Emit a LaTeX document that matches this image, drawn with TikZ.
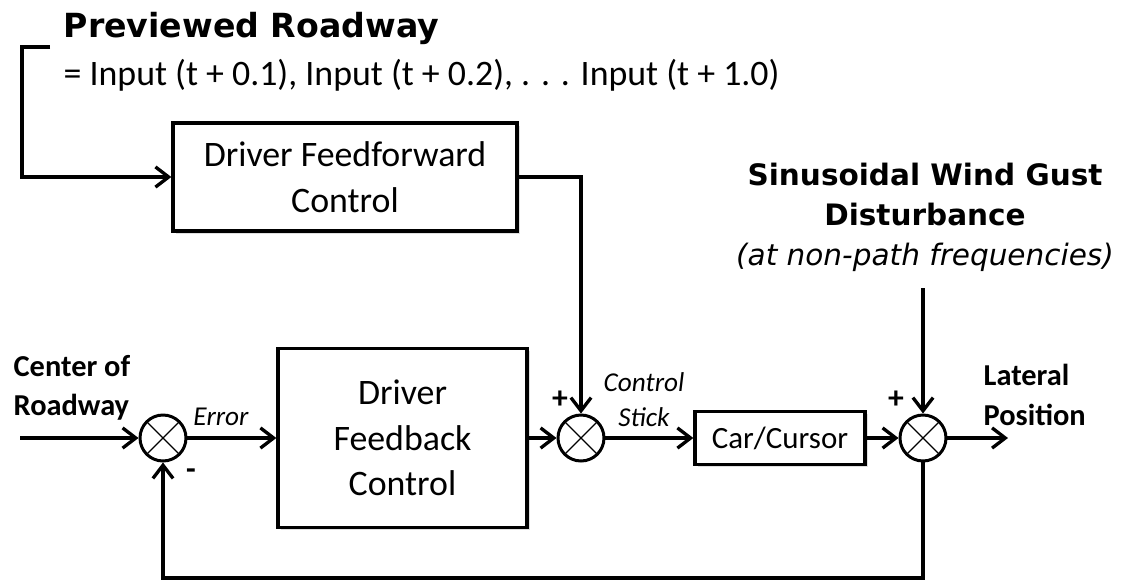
\documentclass[tikz,border=0pt]{standalone}
\usepackage{fontspec}
\setmainfont{Carlito}
\newfontfamily\gustfont{DejaVu Sans}
\usepackage{tikz}
\usetikzlibrary{arrows.meta, positioning, calc, shadows}

\begin{document}
\begin{tikzpicture}[x=0.02cm, y=-0.02cm, >={Straight Barb[length=7.5pt,width=11.5pt]},
    line width=1.9pt,
    block/.style={draw, line width=1.9pt, fill=white, align=center, inner sep=0pt,
        font=\fontsize{20.4}{26}\selectfont,
        drop shadow={opacity=0.25, shadow xshift=1.5pt, shadow yshift=-1.5pt}},
    sumjunc/.style={circle, draw, line width=1.7pt, inner sep=0pt, minimum size=0.92cm,
        path picture={\draw[line width=0.7pt]
            (path picture bounding box.north west) -- (path picture bounding box.south east)
            (path picture bounding box.north east) -- (path picture bounding box.south west);}},
    sig/.style={font=\itshape\fontsize{15.5}{20}\selectfont, align=center, inner sep=0pt},
    tag/.style={font=\bfseries\fontsize{17.3}{22.5}\selectfont, align=left, inner sep=0pt},
    sign/.style={font=\bfseries\fontsize{18}{18}\selectfont, inner sep=0pt}]
    \useasboundingbox (0,0) rectangle (1134,582);

    % previewed roadway
    \node[anchor=west, inner sep=0pt, font=\gustfont\bfseries\fontsize{18.9}{20}\selectfont] (prevTitle) at (62,28) {Previewed Roadway};
    \node[anchor=west, inner sep=0pt, font=\fontsize{20.4}{22}\selectfont] (prevInput) at (62,75) {= Input (t + 0.1), Input (t + 0.2), . . . Input (t + 1.0)};
    \coordinate (brTop) at (50,47);
    \coordinate (brCorner) at (22,47);

    % blocks and summing junctions
    \node[block, minimum width=6.88cm, minimum height=2.16cm] (ffBox) at (345,177) {Driver Feedforward\\Control};
    \node[block, minimum width=4.98cm, minimum height=3.58cm] (fbBox) at (402.5,438) {Driver\\Feedback\\Control};
    \node[block, minimum width=3.4cm, minimum height=1.06cm, font=\fontsize{17.6}{20}\selectfont] (carBox) at (780,438) {Car/Cursor};
    \node[sumjunc] (sumA) at (163,438) {};
    \node[sumjunc] (sumB) at (581,438) {};
    \node[sumjunc] (sumC) at (923,438) {};

    % labels
    \node[tag, anchor=west] (centerTag) at (12,388) {Center of\\Roadway};
    \node[tag, anchor=west] (lateralTag) at (982,395) {Lateral\\Position};
    \node[sig] (errTag) at (221,417) {Error};
    \node[sig] (stickTag) at (644,400) {Control\\Stick};
    \node[sign] (minusA) at (191,474) {-};
    \node[sign] (plusB) at (560,400) {+};
    \node[sign] (plusC) at (896,400) {+};
    \node[align=center, font=\gustfont\bfseries\fontsize{16.8}{22.7}\selectfont] (gust) at (925,217)
        {Sinusoidal Wind Gust\\Disturbance\\{\mdseries\itshape (at non-path frequencies)}};

    \coordinate (inStart) at (20,438);
    \coordinate (outEnd) at (1008,438);
    \coordinate (gustTip) at (923,288);
    \coordinate (fbLow) at (0,578);

    % signal flow
    \draw[->] (brTop) -- (brCorner) |- (ffBox.west);
    \draw[->] (inStart) -- (sumA);
    \draw[->] (sumA) -- (fbBox);
    \draw[->] (fbBox) -- (sumB);
    \draw[->] (ffBox.east) -| (sumB);
    \draw[->] (sumB) -- (carBox);
    \draw[->] (carBox) -- (sumC);
    \draw[->] (gustTip) -- (sumC);
    \draw[->] (sumC) -- (outEnd);
    \draw[->] (sumC) -- (sumC |- fbLow) -| (sumA);
\end{tikzpicture}
\end{document}
